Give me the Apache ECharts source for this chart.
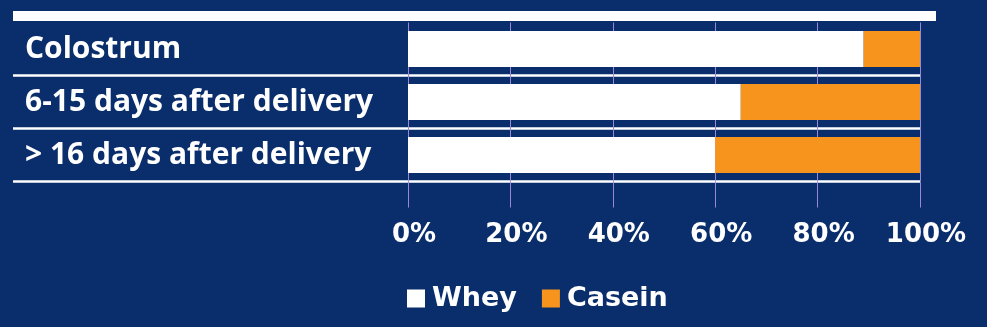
<!DOCTYPE html>
<html>
<head>
<meta charset="utf-8">
<title>Whey and casein share in breast milk</title>
<script src="https://cdn.jsdelivr.net/npm/echarts@6/dist/echarts.min.js"></script>
<style>
  html, body { margin: 0; padding: 0; background: #0a2e6c; }
  #chart { width: 987px; height: 327px; }
</style>
</head>
<body>
<div id="chart"></div>
<script>
// Stages of lactation, top to bottom
const stages = ['Colostrum', '6-15 days after delivery', '> 16 days after delivery'];
// Protein share per stage, percent
const whey = [89, 65, 60];
const casein = [11, 35, 40];
// Percent ticks along the value axis
const tickStep = 20;
const tickMax = 100;

const NAVY = '#0a2e6c';
const ORANGE = '#f7941d';
const GRID_PURPLE = '#9c86d6';

const chart = echarts.init(document.getElementById('chart'), null, { renderer: 'canvas' });

const plotTop = 22.5;
const plotHeight = 159;

chart.setOption({
  backgroundColor: NAVY,
  animation: false,
  graphic: [{
    // heavy rule across the top of the table
    type: 'rect',
    left: 13, top: 11,
    shape: { width: 923, height: 10 },
    style: { fill: '#ffffff' },
    z: 5
  }],
  legend: {
    data: ['Whey', 'Casein'],
    left: 402,
    top: 280,
    icon: 'rect',
    itemWidth: 18,
    itemHeight: 18,
    itemGap: 25,
    textStyle: {
      color: '#ffffff',
      fontFamily: 'DejaVu Sans',
      fontWeight: 'bold',
      fontSize: 27,
      padding: [0, 0, 0, 2]
    }
  },
  grid: [
    { left: 408, right: 67, top: plotTop, height: plotHeight },
    { left: 13, right: 67, top: plotTop, height: plotHeight }
  ],
  xAxis: [{
    type: 'value',
    gridIndex: 0,
    min: 0,
    max: tickMax,
    interval: tickStep,
    axisLine: { show: false },
    axisTick: { show: true, length: 26, inside: false, lineStyle: { color: GRID_PURPLE, width: 1 } },
    splitLine: { show: true, lineStyle: { color: GRID_PURPLE, width: 1 } },
    axisLabel: {
      formatter: '{value}%',
      color: '#ffffff',
      fontFamily: 'DejaVu Sans',
      fontWeight: 'bold',
      fontSize: 26,
      margin: 41,
      padding: [0, 0, 0, 12]
    }
  }, {
    type: 'value',
    gridIndex: 1,
    show: false
  }],
  yAxis: [{
    type: 'category',
    gridIndex: 0,
    data: stages,
    inverse: true,
    axisLine: { show: false },
    axisTick: { show: false },
    axisLabel: { show: false },
    splitLine: { show: false }
  }, {
    // full-width row rules and the stage names
    type: 'category',
    gridIndex: 1,
    data: stages,
    inverse: true,
    axisLine: { show: false },
    axisTick: { show: false },
    axisLabel: {
      show: true,
      inside: true,
      align: 'left',
      margin: 12,
      color: '#ffffff',
      fontFamily: 'Open Sans',
      fontWeight: 'bold',
      fontSize: 30,
      padding: [9, 0, 0, 0]
    },
    splitLine: {
      show: true,
      interval: function (index) { return index !== 0; },
      lineStyle: { color: '#ffffff', width: 2.5 }
    }
  }],
  series: [{
    name: 'Whey',
    type: 'bar',
    stack: 'protein',
    xAxisIndex: 0,
    yAxisIndex: 0,
    data: whey,
    barWidth: 36,
    itemStyle: { color: '#ffffff' },
    z: 3
  }, {
    name: 'Casein',
    type: 'bar',
    stack: 'protein',
    xAxisIndex: 0,
    yAxisIndex: 0,
    data: casein,
    barWidth: 36,
    itemStyle: { color: ORANGE },
    z: 3
  }]
});
</script>
</body>
</html>
